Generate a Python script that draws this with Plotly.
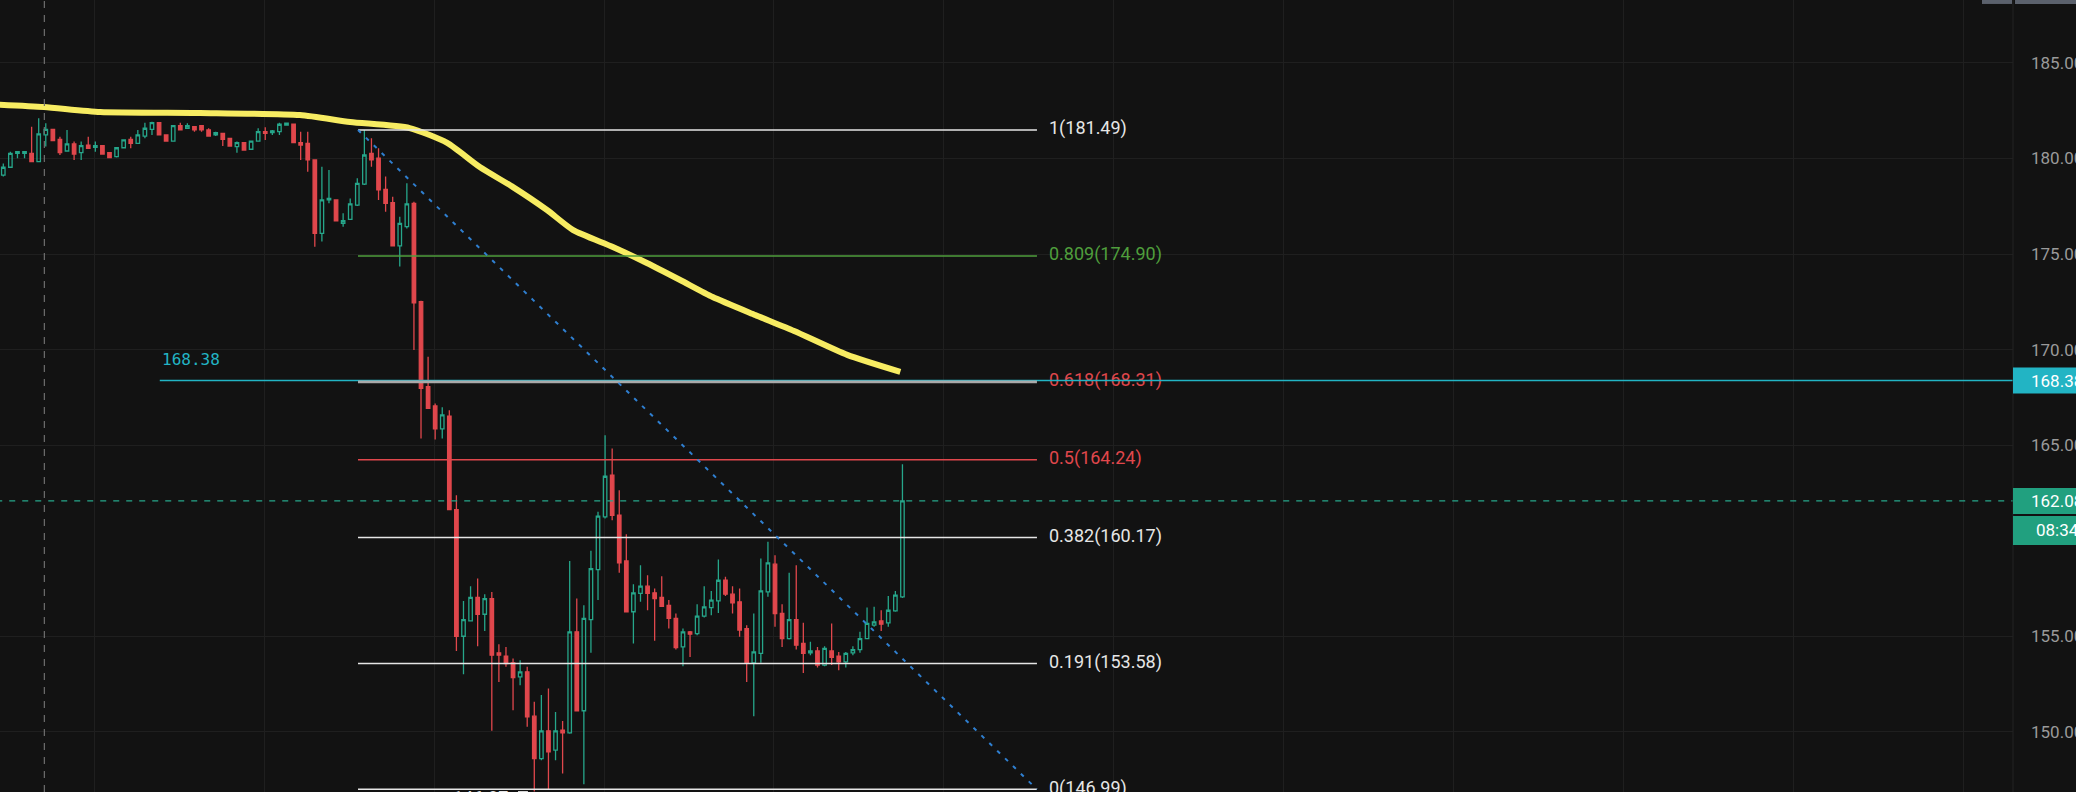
import plotly.graph_objects as go

# ---------------- data ----------------
opens = [179.13, 179.54, 180.27, 180.27, 180.27, 179.83, 181.23, 181.52, 181.00, 180.39,
         180.76, 180.30, 180.70, 180.58, 180.67, 180.30, 180.09, 180.56, 181.00, 180.79,
         181.17, 181.52, 181.87, 181.23, 180.91, 181.72, 181.58, 181.66, 181.72, 181.49,
         181.23, 181.31, 181.05, 180.62, 180.83, 180.48, 180.91, 181.40, 181.35, 181.40,
         181.75, 181.79, 180.83, 180.79, 179.92, 176.08, 177.83, 177.83, 176.60, 176.81,
         177.56, 178.66, 180.27, 180.01, 178.38, 177.69, 175.42, 176.43, 177.65, 172.51,
         168.06, 167.05, 165.85, 166.51, 161.63, 155.00, 155.80, 157.03, 156.15, 156.97,
         154.13, 153.96, 153.61, 152.87, 153.14, 150.82, 148.60, 150.05, 149.04, 150.08,
         149.94, 155.23, 151.10, 155.87, 158.49, 161.25, 163.43, 161.33, 158.94, 156.28,
         157.24, 157.62, 157.27, 157.03, 156.62, 155.93, 154.44, 155.23, 155.14, 156.05,
         156.50, 156.85, 157.93, 157.20, 156.80, 155.40, 153.61, 154.10, 157.32, 158.77,
         156.19, 154.88, 155.87, 154.62, 154.13, 154.23, 153.49, 154.23, 153.96, 153.66,
         154.13, 154.30, 154.88, 155.58, 155.80, 155.70, 156.33, 157.06]
highs = [179.74, 180.35, 180.35, 180.35, 181.66, 182.10, 181.84, 181.55, 181.14, 181.49,
         180.88, 180.88, 181.14, 180.88, 180.70, 180.33, 180.60, 181.00, 181.14, 181.49,
         181.87, 181.92, 181.90, 181.26, 181.75, 181.87, 181.84, 181.68, 181.75, 181.58,
         181.40, 181.33, 181.08, 180.88, 180.86, 180.94, 181.58, 181.63, 181.49, 181.87,
         181.87, 181.82, 181.40, 181.40, 179.95, 179.57, 179.40, 177.86, 177.13, 177.91,
         178.96, 181.49, 181.05, 180.53, 179.05, 178.00, 176.95, 178.70, 177.74, 172.55,
         169.63, 167.18, 166.98, 166.83, 162.38, 156.85, 157.62, 158.02, 157.20, 157.32,
         154.58, 154.44, 153.83, 153.75, 153.40, 151.57, 151.92, 152.26, 151.04, 150.57,
         158.94, 156.97, 156.62, 159.47, 161.51, 165.52, 164.82, 162.64, 160.34, 157.72,
         158.72, 158.19, 157.50, 158.14, 156.89, 156.19, 155.40, 155.28, 156.68, 157.62,
         157.37, 159.01, 158.11, 157.62, 157.50, 155.58, 156.19, 159.07, 159.94, 159.24,
         156.68, 158.32, 158.72, 155.70, 154.71, 154.44, 154.48, 155.67, 154.18, 154.18,
         154.48, 155.23, 156.50, 156.54, 156.36, 157.10, 157.37, 164.00]
lows = [179.05, 179.50, 180.01, 180.01, 179.83, 179.83, 180.62, 180.90, 180.18, 180.35,
        179.92, 179.92, 180.53, 180.35, 180.20, 180.01, 180.05, 180.52, 180.53, 180.76,
        181.05, 181.23, 181.20, 180.88, 180.88, 181.47, 181.56, 181.40, 181.40, 181.14,
        181.17, 180.65, 180.62, 180.30, 180.41, 180.45, 180.88, 180.97, 181.23, 181.23,
        181.74, 180.80, 179.92, 179.31, 175.38, 175.65, 177.65, 176.70, 176.43, 176.78,
        177.51, 178.61, 179.57, 177.83, 177.21, 175.40, 174.34, 176.34, 169.98, 165.35,
        166.90, 165.30, 165.35, 161.60, 154.23, 153.01, 155.78, 154.48, 155.28, 150.05,
        152.61, 153.40, 151.13, 152.44, 150.26, 146.87, 148.51, 147.00, 148.51, 147.82,
        149.90, 151.08, 147.26, 154.13, 156.89, 161.16, 161.07, 158.32, 156.26, 154.62,
        156.80, 156.36, 154.76, 156.54, 155.40, 154.30, 153.43, 153.92, 155.05, 155.98,
        156.10, 156.22, 157.10, 156.19, 154.97, 152.61, 150.82, 153.61, 157.06, 155.49,
        154.44, 154.83, 154.30, 153.08, 154.01, 153.36, 153.43, 153.49, 153.22, 153.36,
        154.01, 154.13, 154.85, 155.49, 155.28, 155.49, 156.28, 157.00]
closes = [179.54, 180.27, 180.35, 180.35, 179.83, 181.28, 181.52, 180.93, 180.30, 180.76,
          180.23, 180.67, 180.53, 180.67, 180.23, 180.04, 180.56, 180.97, 180.79, 181.23,
          181.58, 181.87, 181.23, 180.91, 181.72, 181.49, 181.72, 181.49, 181.49, 181.17,
          181.35, 181.00, 180.65, 180.83, 180.44, 180.91, 181.40, 181.31, 181.44, 181.79,
          181.84, 180.83, 180.70, 179.92, 176.08, 177.83, 177.91, 176.74, 176.74, 177.62,
          178.70, 180.18, 179.92, 178.35, 177.65, 175.42, 176.60, 177.62, 172.45, 167.97,
          166.92, 165.85, 166.58, 161.63, 155.00, 155.87, 157.03, 156.15, 156.97, 154.01,
          154.01, 153.57, 152.84, 153.14, 150.78, 148.60, 150.05, 148.95, 150.05, 149.94,
          155.23, 151.10, 155.93, 158.54, 161.28, 163.37, 161.33, 158.84, 156.28, 157.27,
          157.62, 157.24, 156.97, 156.57, 155.93, 154.41, 155.23, 155.11, 156.05, 156.54,
          156.89, 157.93, 157.20, 156.75, 155.32, 153.61, 154.18, 157.37, 158.84, 156.19,
          154.88, 155.87, 154.53, 154.10, 154.23, 153.49, 154.36, 153.89, 153.66, 154.10,
          154.30, 154.88, 155.67, 155.75, 155.63, 156.36, 157.15, 162.08]
candle_idx = list(range(len(closes)))

# moving average (yellow), sampled points (bar index, value)
ma_idx = [-1, 5.75, 13.7, 27.8, 41.9, 49.0, 57.4, 62.7, 67.3, 72.0, 76.8, 80.5, 86.1,
          90.9, 95.6, 100.2, 106.2, 111.7, 119.2, 126.7]
ma_val = [182.82, 182.69, 182.43, 182.38, 182.27, 181.91, 181.59, 180.81, 179.55, 178.50,
          177.30, 176.25, 175.37, 174.53, 173.64, 172.75, 171.81, 170.97, 169.72, 168.83]

# Fibonacci retracement
fib_ratios = ["1", "0.809", "0.618", "0.5", "0.382", "0.191", "0"]
fib_prices = [181.49, 174.90, 168.31, 164.24, 160.17, 153.58, 146.99]
fib_colors = ["#e6e6e6", "#4f9e3c", "#a9a9a9", "#e0474c", "#e6e6e6", "#e6e6e6", "#e6e6e6"]
fib_label_colors = ["#e6e6e6", "#4f9e3c", "#e0474c", "#e0474c", "#e6e6e6", "#e6e6e6", "#e6e6e6"]
fib_start_idx, fib_end_idx = 50.1, 146.0

horiz_level = 168.38          # cyan horizontal line
horiz_start_idx = 22.1
last_price = 162.08
countdown = "08:34"
low_label = 146.87
low_idx = 75

y_ticks = [150, 155, 165, 170, 175, 180, 185]

# ---------------- styling ----------------
BG = "#121212"
GRID = "#1f1f1f"
UP = "#26a68a"
DOWN = "#e0474c"
CYAN = "#22b4c4"
X_MAX = 283.86

fig = go.Figure()

# current price dashed line (behind candles)
fig.add_trace(go.Scatter(x=[-1, X_MAX + 5], y=[last_price, last_price], mode="lines",
                         line=dict(color=UP, width=1.2, dash="6px,7px"), hoverinfo="skip"))

fig.add_trace(go.Candlestick(
    x=candle_idx, open=opens, high=highs, low=lows, close=closes,
    increasing=dict(line=dict(color=UP, width=1.3), fillcolor="rgba(0,0,0,0)"),
    decreasing=dict(line=dict(color=DOWN, width=1.3), fillcolor=DOWN),
    whiskerwidth=0, hoverinfo="skip"))

# yellow moving average
fig.add_trace(go.Scatter(x=ma_idx, y=ma_val, mode="lines",
                         line=dict(color="#f7ec62", width=6, shape="spline", smoothing=0.6),
                         hoverinfo="skip"))

# fib lines (except 0.618 which is drawn above the cyan line)
for r, p, c in zip(fib_ratios, fib_prices, fib_colors):
    if r == "0.618":
        continue
    fig.add_trace(go.Scatter(x=[fib_start_idx, fib_end_idx], y=[p, p], mode="lines",
                             line=dict(color=c, width=1.5), hoverinfo="skip"))

# fib labels
fig.add_trace(go.Scatter(
    x=[fib_end_idx + 1.7] * len(fib_prices), y=fib_prices, mode="text",
    text=[f"{r}({p:.2f})" for r, p in zip(fib_ratios, fib_prices)],
    textposition="middle right",
    textfont=dict(family="Roboto", size=18, color=fib_label_colors),
    hoverinfo="skip", cliponaxis=False))

# cyan horizontal line
fig.add_trace(go.Scatter(x=[horiz_start_idx, X_MAX + 5], y=[horiz_level, horiz_level],
                         mode="lines", line=dict(color=CYAN, width=1.5), hoverinfo="skip"))

# 0.618 fib line on top
i618 = fib_ratios.index("0.618")
fig.add_trace(go.Scatter(x=[fib_start_idx, fib_end_idx], y=[fib_prices[i618]] * 2, mode="lines",
                         line=dict(color=fib_colors[i618], width=2.6), hoverinfo="skip"))

# diagonal dotted trend line of the fib
fig.add_trace(go.Scatter(x=[fib_start_idx, fib_end_idx], y=[fib_prices[0], fib_prices[-1]],
                         mode="lines", line=dict(color="#2f7fd0", width=2, dash="4px,7px"),
                         hoverinfo="skip"))

shapes = [
    # vertical crosshair
    dict(type="line", xref="x", yref="paper", x0=5.8, x1=5.8, y0=0, y1=1,
         line=dict(color="#6e6e6e", width=1.2, dash="7px,7px")),
    # axis separator
    dict(type="line", xref="paper", yref="paper", x0=1, x1=1, y0=0, y1=1,
         line=dict(color="#222222", width=1)),
    # axis label boxes
    dict(type="rect", xref="paper", yref="y", x0=1.0, x1=1.1, ysizemode="pixel",
         yanchor=horiz_level, y0=-13, y1=13, fillcolor=CYAN, line=dict(width=0)),
    dict(type="rect", xref="paper", yref="y", x0=1.0, x1=1.1, ysizemode="pixel",
         yanchor=last_price, y0=-13, y1=13, fillcolor="#21a07f", line=dict(width=0)),
    dict(type="rect", xref="paper", yref="y", x0=1.0, x1=1.1, ysizemode="pixel",
         yanchor=last_price, y0=-44, y1=-15, fillcolor="#21a07f", line=dict(width=0)),
    # top toolbar bits
    dict(type="rect", xref="paper", yref="paper", x0=0.9846, x1=0.9995, y0=0.995, y1=1,
         fillcolor="#5b616c", line=dict(width=0)),
    dict(type="rect", xref="paper", yref="paper", x0=1.001, x1=1.1, y0=0.995, y1=1,
         fillcolor="#5b616c", line=dict(width=0)),
    # low marker dash
    dict(type="line", xref="x", yref="y", x0=low_idx - 2.3, x1=low_idx - 0.9,
         y0=low_label - 0.05, y1=low_label - 0.05, line=dict(color="#e6e6e6", width=3)),
]

annotations = [
    dict(x=horiz_start_idx, y=horiz_level, xref="x", yref="y", text=f"{horiz_level:.2f}",
         showarrow=False, xanchor="left", yanchor="bottom", yshift=10, xshift=0,
         font=dict(family="DejaVu Sans Mono", size=16, color=CYAN)),
    dict(x=1, y=horiz_level, xref="paper", yref="y", text=f"{horiz_level:.2f}",
         showarrow=False, xanchor="left", xshift=16,
         font=dict(family="Roboto", size=17, color="#ffffff")),
    dict(x=1, y=last_price, xref="paper", yref="y", text=f"{last_price:.2f}",
         showarrow=False, xanchor="left", xshift=16,
         font=dict(family="Roboto", size=17, color="#ffffff")),
    dict(x=1, y=last_price, xref="paper", yref="y", text=countdown,
         showarrow=False, xanchor="left", xshift=21, yshift=-29,
         font=dict(family="Roboto", size=17, color="#ffffff")),
    dict(x=low_idx, y=low_label, xref="x", yref="y", text=f"{low_label:.2f}",
         showarrow=False, xanchor="right", xshift=-24, yanchor="middle", yshift=-6,
         font=dict(family="Roboto", size=18, color="#e6e6e6")),
]

fig.update_layout(
    width=2076, height=792, margin=dict(l=0, r=63, t=0, b=0, autoexpand=False),
    paper_bgcolor=BG, plot_bgcolor=BG, showlegend=False,
    xaxis=dict(range=[-0.466, X_MAX], showgrid=True, gridcolor=GRID, gridwidth=1,
               tick0=12.85, dtick=24, showticklabels=False, zeroline=False,
               rangeslider=dict(visible=False), showline=False, fixedrange=True,
               automargin=False),
    yaxis=dict(range=[146.85, 188.29], side="right", tickvals=y_ticks,
               ticktext=[f"{v:.2f}" for v in y_ticks], showgrid=True, gridcolor=GRID,
               gridwidth=1, zeroline=False, ticks="", ticklabelstandoff=17, automargin=False,
               tickfont=dict(family="Roboto", size=17, color="#9a9a9a"), showline=False),
    shapes=shapes, annotations=annotations,
)

fig.write_html("out.html")
